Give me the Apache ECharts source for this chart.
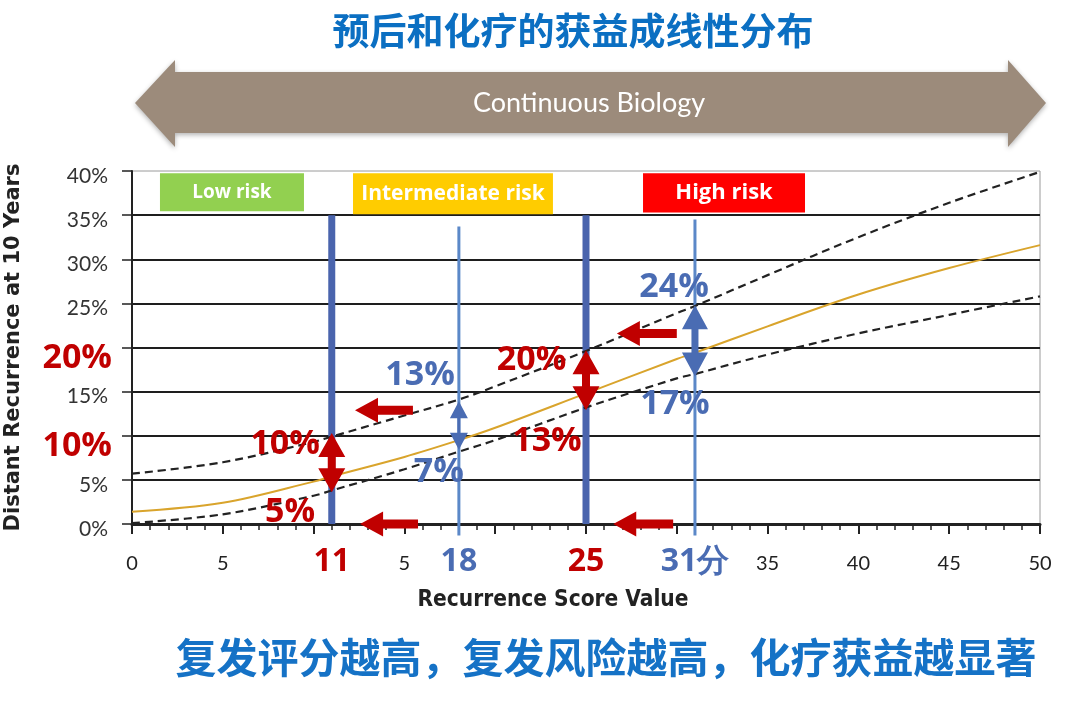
<!DOCTYPE html>
<html><head><meta charset="utf-8">
<script src="https://cdn.jsdelivr.net/npm/echarts@6/dist/echarts.min.js"></script>
<style>html,body{margin:0;padding:0;background:#fff}#c{width:1075px;height:706px}</style>
</head><body><div id="c"></div>
<script>
// ---- data ----
const scoreX    = [0, 5, 10, 11, 15, 18, 20, 25, 30, 31, 35, 40, 45, 50];
const meanRisk  = [1.4, 2.4, 4.8, 5.4, 7.6, 9.5, 10.9, 14.8, 18.7, 19.4, 22.4, 26.0, 29.0, 31.6];
const upperCI   = [5.7, 7.0, 9.3, 9.9, 12.3, 14.1, 15.6, 19.6, 23.9, 24.7, 28.2, 32.5, 36.4, 39.9];
const lowerCI   = [0.1, 1.1, 3.2, 3.8, 6.2, 8.2, 9.5, 13.2, 16.5, 17.0, 19.2, 21.6, 23.7, 25.8];
const xTickLabels  = {0:'0', 5:'5', 15:'5', 35:'35', 40:'40', 45:'45', 50:'50'};
const cutoffLabels = {11:'11', 18:'18', 25:'25', 31:'31分'};
const redCutoffs   = [11, 25];
// bars: [score, fromPct, toPct]
const thickBars = [[11, 0, 35], [25, 0, 35]];
const thinBars  = [[18, -1.3, 33.7], [31, -1.3, 34.5]];
// double arrows: [score, topPct, bottomPct]
const redRanges  = [[11, 10.3, 3.6], [25, 19.7, 12.9]];
const blueRangeSmall = [[18, 13.9, 8.4]];
const blueRangeBig   = [[31, 24.8, 16.7]];
// left-pointing arrows: [tailScore, tipScore, pct]
const leftArrows = [[15.47, 12.28, 12.9], [15.75, 12.56, 0], [29.8, 26.5, 0], [30.0, 26.7, 21.6]];
// notes: [score, pct, text]
const redNotes  = [[8.43, 9.06, '10%'], [8.7, 1.36, '5%'], [22.0, 18.6, '20%'], [22.85, 9.4, '13%']];
const blueNotes = [[15.86, 16.9, '13%'], [16.9, 5.9, '7%'], [29.85, 26.8, '24%'], [29.9, 13.6, '17%']];
// risk boxes: [label, fromScore, toScore, fromPct, toPct]
const riskBoxes = [['Low risk', 1.54, 9.47, 35.45, 39.75], ['Intermediate risk', 12.17, 23.18, 35.1, 39.75], ['High risk', 28.14, 37.06, 35.3, 39.75]];
const riskColors = {'Low risk':'#92d050', 'Intermediate risk':'#ffcc00', 'High risk':'#ff0000'};
const riskFont   = {'Low risk':19, 'Intermediate risk':21, 'High risk':22};

const RED = '#c00000', BLUE = '#4a6cb3', BAR = '#4a64ad', THIN = '#5b88c8';
const chart = echarts.init(document.getElementById('c'));

function arrowPoly(p1, p2, hl, hw, sw, dbl) {
  const dx = p2[0]-p1[0], dy = p2[1]-p1[1], L = Math.hypot(dx, dy);
  const ux = dx/L, uy = dy/L, nx = -uy, ny = ux;
  const P = (b, s, off) => [b[0]+ux*s+nx*off, b[1]+uy*s+ny*off];
  if (dbl) return [p1, P(p1,hl,hw/2), P(p1,hl,sw/2), P(p2,-hl,sw/2), P(p2,-hl,hw/2), p2,
                   P(p2,-hl,-hw/2), P(p2,-hl,-sw/2), P(p1,hl,-sw/2), P(p1,hl,-hw/2)];
  return [P(p1,0,sw/2), P(p2,-hl,sw/2), P(p2,-hl,hw/2), p2, P(p2,-hl,-hw/2), P(p2,-hl,-sw/2), P(p1,0,-sw/2)];
}

function barSeries(arr, color, width) {
  return {type:'custom', z:2, clip:false, data: arr.map(d => [d[0], d[1]]),
    renderItem: (params, api) => {
      const d = arr[params.dataIndex];
      const a = api.coord([d[0], d[1]]), b = api.coord([d[0], d[2]]);
      return {type:'line', shape:{x1:a[0], y1:a[1], x2:b[0], y2:b[1]}, style:{stroke:color, lineWidth:width}};
    }};
}
function doubleArrowSeries(arr, color, hl, hw, sw) {
  return {type:'custom', z:5, clip:false, data: arr.map(d => [d[0], d[1]]),
    renderItem: (params, api) => {
      const d = arr[params.dataIndex];
      const a = api.coord([d[0], d[1]]), b = api.coord([d[0], d[2]]);
      return {type:'polygon', shape:{points: arrowPoly(a, b, hl, hw, sw, true)}, style:{fill:color}};
    }};
}
function noteSeries(arr, color) {
  return {type:'custom', z:6, clip:false, data: arr.map(d => [d[0], d[1]]),
    renderItem: (params, api) => {
      const d = arr[params.dataIndex];
      const p = api.coord([d[0], d[1]]);
      return {type:'text', x:p[0], y:p[1], style:{text:d[2], fill:color, align:'center', verticalAlign:'middle',
        font:'bold 34px "Open Sans", sans-serif'}};
    }};
}
function curve(vals, color, type, width) {
  return {type:'line', z:3, smooth:0.35, showSymbol:false, silent:true,
    data: scoreX.map((x, i) => [x, vals[i]]),
    lineStyle:{color:color, width:width, type:type}};
}

const option = {
  animation:false,
  grid:{left:132, right:35, top:171, bottom:182, outerBoundsMode:'none', containLabel:false,
        show:true, borderColor:'#9a9a9a', borderWidth:1, backgroundColor:'transparent'},
  xAxis:[{
    type:'value', min:0, max:50, interval:5, position:'bottom',
    axisLine:{show:true, onZero:false, lineStyle:{color:'#222', width:3}},
    axisTick:{show:true, length:10, lineStyle:{color:'#222', width:2}},
    minorTick:{show:true, splitNumber:5, length:6, lineStyle:{color:'#222', width:1.5}},
    splitLine:{show:false},
    axisLabel:{margin:30, fontFamily:'Lato', fontSize:20, color:'#222', formatter: v => xTickLabels[v] ?? ''},
    name:'Recurrence Score Value', nameLocation:'middle', nameGap:65,
    nameTextStyle:{fontFamily:'"DejaVu Sans Condensed", "DejaVu Sans"', fontWeight:'bold', fontSize:22.5, color:'#222', padding:[0,66,0,0]}
  },{
    type:'value', min:0, max:50, interval:1, position:'bottom',
    axisLine:{show:false}, axisTick:{show:false}, splitLine:{show:false},
    axisLabel:{margin:22, formatter: v => cutoffLabels[v] ? `{${redCutoffs.includes(v) ? 'r' : 'b'}|${cutoffLabels[v]}}` : '',
      rich:{r:{fontFamily:'Open Sans', fontWeight:'bold', fontSize:32, color:RED},
            b:{fontFamily:'Open Sans', fontWeight:'bold', fontSize:32, color:BLUE}}}
  }],
  yAxis:{
    type:'value', min:0, max:40, interval:5,
    axisLine:{show:true, lineStyle:{color:'#222', width:2}},
    axisTick:{show:true, length:10, lineStyle:{color:'#222', width:1.5}},
    splitLine:{show:true, showMaxLine:false, lineStyle:{color:'#1e1e1e', width:2}},
    axisLabel:{margin:20, formatter: v => (v === 10 || v === 20) ? `{r|${v}%}` : `{n|${v}%}`,
      rich:{n:{fontFamily:'Lato', fontSize:21, color:'#333', padding:[10,4,0,0]},
            r:{fontFamily:'Open Sans', fontWeight:'bold', fontSize:34, color:RED, padding:[22,0,0,0]}}},
    name:'Distant Recurrence at 10 Years', nameLocation:'middle', nameGap:108,
    nameTextStyle:{fontFamily:'"DejaVu Sans"', fontWeight:'bold', fontSize:21, color:'#222'}
  },
  series:[
    barSeries(thickBars, BAR, 7),
    barSeries(thinBars, THIN, 3),
    curve(meanRisk, '#d9a42c', 'solid', 2),
    curve(upperCI, '#222', [8,5], 2.2),
    curve(lowerCI, '#222', [8,5], 2.2),
    doubleArrowSeries(redRanges, RED, 24, 27, 8),
    doubleArrowSeries(blueRangeSmall, BLUE, 17, 18, 3),
    doubleArrowSeries(blueRangeBig, BLUE, 24, 26, 7),
    {type:'custom', z:5, clip:false, data: leftArrows.map(d => [d[0], d[2]]),
      renderItem: (params, api) => {
        const d = leftArrows[params.dataIndex];
        const a = api.coord([d[0], d[2]]), b = api.coord([d[1], d[2]]);
        return {type:'polygon', shape:{points: arrowPoly(a, b, 23, 25, 9, false)}, style:{fill:RED}};
      }},
    noteSeries(redNotes, RED),
    noteSeries(blueNotes, BLUE),
    {type:'custom', z:6, clip:false, data: riskBoxes.map(d => [d[1], d[3]]),
      renderItem: (params, api) => {
        const d = riskBoxes[params.dataIndex];
        const a = api.coord([d[1], d[4]]), b = api.coord([d[2], d[3]]);
        return {type:'group', children:[
          {type:'rect', shape:{x:a[0], y:a[1], width:b[0]-a[0], height:b[1]-a[1]}, style:{fill:riskColors[d[0]]}},
          {type:'text', x:(a[0]+b[0])/2, y:(a[1]+b[1])/2, style:{text:d[0], fill:'#fff', align:'center', verticalAlign:'middle',
            font:'bold ' + riskFont[d[0]] + 'px "Open Sans", sans-serif'}}
        ]};
      }}
  ],
  graphic:[
    {type:'text', x:573, y:31, style:{text:'预后和化疗的获益成线性分布', fill:'#0b6fc2', align:'center', verticalAlign:'middle',
      font:'bold 37px "Noto Sans CJK SC", sans-serif'}},
    {type:'polygon', shape:{points:[[135,103],[175,60],[175,72],[1008,72],[1008,60],[1046,103],[1008,147],[1008,133],[175,133],[175,147]]},
      style:{fill:'#9c8b7b', shadowBlur:5, shadowColor:'rgba(0,0,0,0.3)', shadowOffsetY:2}},
    {type:'text', x:589, y:103, style:{text:'Continuous Biology', fill:'#fff', align:'center', verticalAlign:'middle',
      font:'27px Lato, sans-serif'}},
    {type:'text', x:606, y:657, style:{text:'复发评分越高，复发风险越高，化疗获益越显著', fill:'#1572c6', align:'center', verticalAlign:'middle',
      font:'bold 41px "Noto Sans CJK SC", sans-serif'}}
  ]
};
chart.setOption(option);
</script></body></html>
